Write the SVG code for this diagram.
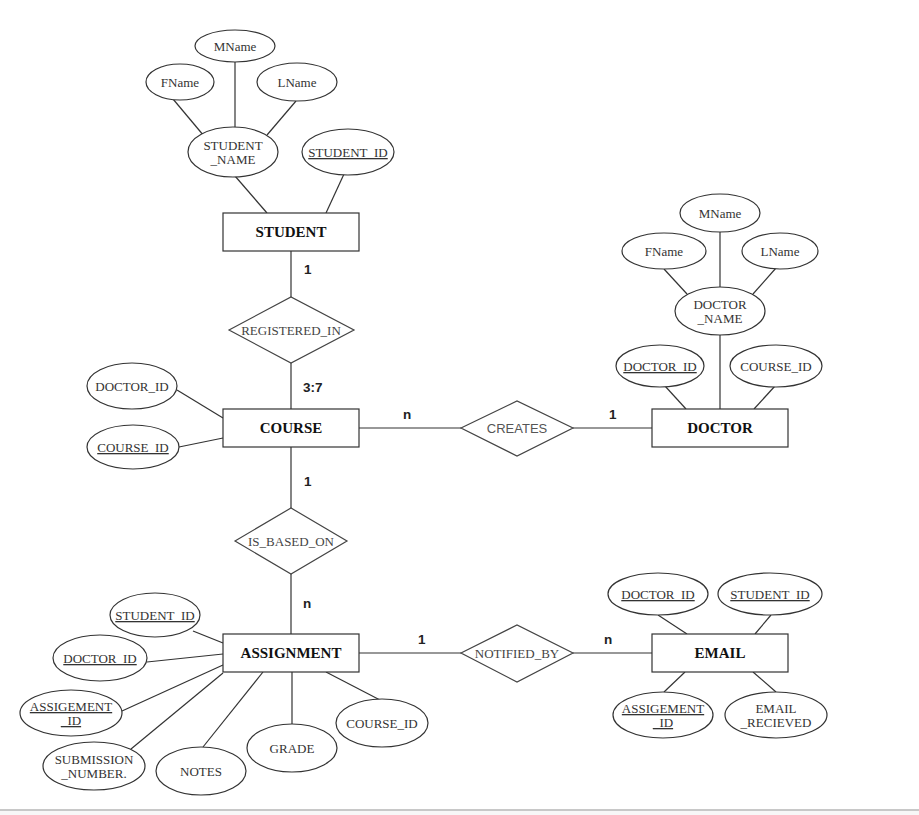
<svg xmlns="http://www.w3.org/2000/svg" width="919" height="815" viewBox="0 0 919 815">
<style>
.ent{fill:#fff;stroke:#333;stroke-width:1.2}
.att{fill:#fff;stroke:#333;stroke-width:1.2}
.rel{fill:#fff;stroke:#444;stroke-width:1.2}
.ln{stroke:#333;stroke-width:1.2;fill:none}
.at{font-family:"Liberation Serif","Times New Roman",serif;font-size:13px;fill:#333;text-anchor:middle}
.u{text-decoration:underline}
.et{font-family:"Liberation Serif","Times New Roman",serif;font-size:15px;font-weight:bold;fill:#111;text-anchor:middle}
.rt{font-family:"Liberation Serif","Times New Roman",serif;font-size:13px;fill:#444;text-anchor:middle}
.rs{font-family:"Liberation Sans",Arial,sans-serif;font-size:13px;fill:#555;text-anchor:middle}
.cd{font-family:"Liberation Sans",Arial,sans-serif;font-size:13.5px;font-weight:bold;fill:#222}
</style>
<rect x="0" y="0" width="919" height="815" fill="#fff"/>
<rect x="0" y="811" width="919" height="4" fill="#f7f7f7"/>
<line x1="0" y1="810" x2="919" y2="810" stroke="#c8c8c8" stroke-width="2"/>

<g id="connectors">
<!-- student -->
<line class="ln" x1="173" y1="99" x2="204" y2="136"/>
<line class="ln" x1="235" y1="62" x2="235" y2="127"/>
<line class="ln" x1="296" y1="101" x2="267" y2="135"/>
<line class="ln" x1="235" y1="176" x2="267" y2="213"/>
<line class="ln" x1="344" y1="174" x2="326" y2="213"/>
<line class="ln" x1="291" y1="251" x2="291" y2="297"/>
<line class="ln" x1="291" y1="363" x2="291" y2="409"/>
<!-- course -->
<line class="ln" x1="177" y1="390" x2="223" y2="418"/>
<line class="ln" x1="179" y1="447" x2="223" y2="438"/>
<line class="ln" x1="359" y1="428" x2="461" y2="428"/>
<line class="ln" x1="573" y1="428" x2="652" y2="428"/>
<line class="ln" x1="291" y1="447" x2="291" y2="508"/>
<line class="ln" x1="291" y1="574" x2="291" y2="634"/>
<!-- doctor -->
<line class="ln" x1="720" y1="232" x2="720" y2="287"/>
<line class="ln" x1="720" y1="335" x2="720" y2="409"/>
<line class="ln" x1="664" y1="269" x2="687" y2="294"/>
<line class="ln" x1="776" y1="268" x2="753" y2="294"/>
<line class="ln" x1="665" y1="386" x2="686" y2="409"/>
<line class="ln" x1="775" y1="386" x2="754" y2="409"/>
<!-- assignment -->
<line class="ln" x1="193" y1="631" x2="223" y2="643"/>
<line class="ln" x1="147" y1="662" x2="223" y2="654"/>
<line class="ln" x1="122" y1="711" x2="223" y2="665"/>
<line class="ln" x1="131" y1="749" x2="223" y2="673"/>
<line class="ln" x1="203" y1="747" x2="263" y2="672"/>
<line class="ln" x1="292" y1="672" x2="292" y2="724"/>
<line class="ln" x1="326" y1="672" x2="380" y2="700"/>
<line class="ln" x1="359" y1="653" x2="461" y2="653"/>
<line class="ln" x1="573" y1="653" x2="652" y2="653"/>
<!-- email -->
<line class="ln" x1="658" y1="615" x2="687" y2="634"/>
<line class="ln" x1="771" y1="615" x2="755" y2="634"/>
<line class="ln" x1="685" y1="672" x2="664" y2="692"/>
<line class="ln" x1="753" y1="672" x2="776" y2="692"/>
</g>

<g id="cardinalities">
<text class="cd" x="304" y="274">1</text>
<text class="cd" x="303" y="392">3:7</text>
<text class="cd" x="403" y="419">n</text>
<text class="cd" x="609" y="419">1</text>
<text class="cd" x="304" y="486">1</text>
<text class="cd" x="303" y="608">n</text>
<text class="cd" x="418" y="644">1</text>
<text class="cd" x="604" y="644">n</text>
</g>

<!-- STUDENT -->
<g id="student-mname"><ellipse class="att" cx="235" cy="46" rx="40" ry="16"/><text class="at" x="235" y="51">MName</text></g>
<g id="student-fname"><ellipse class="att" cx="180" cy="82" rx="34" ry="18"/><text class="at" x="180" y="87">FName</text></g>
<g id="student-lname"><ellipse class="att" cx="297" cy="82" rx="40" ry="19"/><text class="at" x="297" y="87">LName</text></g>
<g id="student-name"><ellipse class="att" cx="233" cy="152" rx="45" ry="25"/><text class="at" x="233" y="150">STUDENT</text><text class="at" x="233" y="164">_NAME</text></g>
<g id="student-id"><ellipse class="att" cx="348" cy="152" rx="46" ry="23"/><text class="at u" x="348" y="157">STUDENT_ID</text></g>
<g id="student"><rect class="ent" x="223" y="213" width="136" height="38"/><text class="et" x="291" y="237">STUDENT</text></g>

<g id="registered-in"><polygon class="rel" points="229,330 291,297 354,330 291,363"/><text class="rt" x="291" y="335">REGISTERED_IN</text></g>

<!-- COURSE -->
<g id="course-doctor-id"><ellipse class="att" cx="132" cy="386" rx="45" ry="23"/><text class="at" x="132" y="391">DOCTOR_ID</text></g>
<g id="course-course-id"><ellipse class="att" cx="133" cy="447" rx="46" ry="22"/><text class="at u" x="133" y="452">COURSE_ID</text></g>
<g id="course"><rect class="ent" x="223" y="409" width="136" height="38"/><text class="et" x="291" y="433">COURSE</text></g>

<g id="creates"><polygon class="rel" points="461,428 517,401 573,428 517,456"/><text class="rs" x="517" y="433">CREATES</text></g>

<!-- DOCTOR -->
<g id="doctor-mname"><ellipse class="att" cx="720" cy="213" rx="40" ry="19"/><text class="at" x="720" y="218">MName</text></g>
<g id="doctor-fname"><ellipse class="att" cx="664" cy="251" rx="42" ry="18"/><text class="at" x="664" y="256">FName</text></g>
<g id="doctor-lname"><ellipse class="att" cx="780" cy="251" rx="38" ry="18"/><text class="at" x="780" y="256">LName</text></g>
<g id="doctor-name"><ellipse class="att" cx="720" cy="311" rx="45" ry="24"/><text class="at" x="720" y="309">DOCTOR</text><text class="at" x="720" y="323">_NAME</text></g>
<g id="doctor-id"><ellipse class="att" cx="660" cy="366" rx="44" ry="21"/><text class="at u" x="660" y="371">DOCTOR_ID</text></g>
<g id="doctor-course-id"><ellipse class="att" cx="776" cy="366" rx="46" ry="21"/><text class="at" x="776" y="371">COURSE_ID</text></g>
<g id="doctor"><rect class="ent" x="652" y="409" width="136" height="38"/><text class="et" x="720" y="433">DOCTOR</text></g>

<g id="is-based-on"><polygon class="rel" points="235,541 291,508 347,541 291,574"/><text class="rt" x="291" y="546">IS_BASED_ON</text></g>

<!-- ASSIGNMENT -->
<g id="assign-student-id"><ellipse class="att" cx="155" cy="615" rx="45" ry="22"/><text class="at u" x="155" y="620">STUDENT_ID</text></g>
<g id="assign-doctor-id"><ellipse class="att" cx="100" cy="658" rx="47" ry="23"/><text class="at u" x="100" y="663">DOCTOR_ID</text></g>
<g id="assign-assigement-id"><ellipse class="att" cx="71" cy="713" rx="51" ry="23"/><text class="at u" x="71" y="711">ASSIGEMENT</text><text class="at u" x="71" y="725">_ID</text></g>
<g id="assign-submission"><ellipse class="att" cx="94" cy="766" rx="51" ry="24"/><text class="at" x="94" y="764">SUBMISSION</text><text class="at" x="94" y="778">_NUMBER.</text></g>
<g id="assign-notes"><ellipse class="att" cx="201" cy="771" rx="45" ry="24"/><text class="at" x="201" y="776">NOTES</text></g>
<g id="assign-grade"><ellipse class="att" cx="292" cy="748" rx="45" ry="24"/><text class="at" x="292" y="753">GRADE</text></g>
<g id="assign-course-id"><ellipse class="att" cx="382" cy="723" rx="46" ry="24"/><text class="at" x="382" y="728">COURSE_ID</text></g>
<g id="assignment"><rect class="ent" x="223" y="634" width="136" height="38"/><text class="et" x="291" y="658">ASSIGNMENT</text></g>

<g id="notified-by"><polygon class="rel" points="461,653 517,625 573,653 517,682"/><text class="rt" x="517" y="658">NOTIFIED_BY</text></g>

<!-- EMAIL -->
<g id="email-doctor-id"><ellipse class="att" cx="658" cy="594" rx="50" ry="21"/><text class="at u" x="658" y="599">DOCTOR_ID</text></g>
<g id="email-student-id"><ellipse class="att" cx="770" cy="594" rx="52" ry="21"/><text class="at u" x="770" y="599">STUDENT_ID</text></g>
<g id="email-assigement-id"><ellipse class="att" cx="663" cy="715" rx="50" ry="23"/><text class="at u" x="663" y="713">ASSIGEMENT</text><text class="at u" x="663" y="727">_ID</text></g>
<g id="email-recieved"><ellipse class="att" cx="776" cy="715" rx="51" ry="23"/><text class="at" x="776" y="713">EMAIL</text><text class="at" x="776" y="727">_RECIEVED</text></g>
<g id="email"><rect class="ent" x="652" y="634" width="136" height="38"/><text class="et" x="720" y="658">EMAIL</text></g>
</svg>
